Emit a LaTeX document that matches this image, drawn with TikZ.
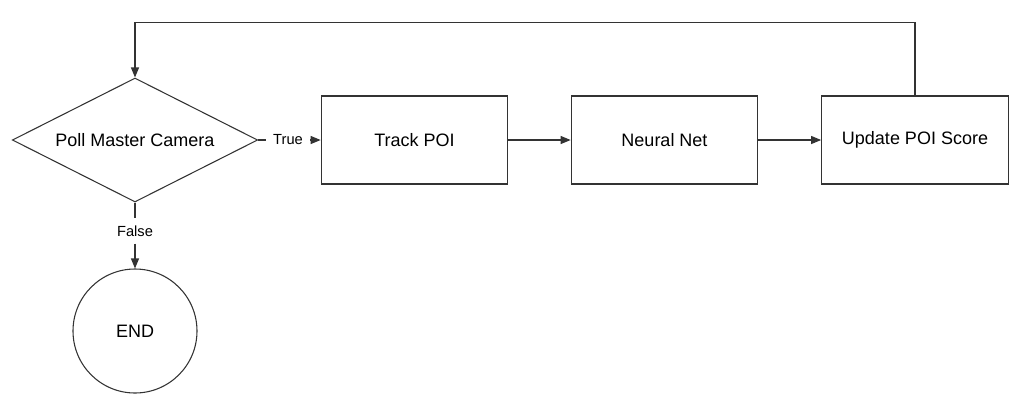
\documentclass[tikz,border=0pt]{standalone}
\usepackage{fontspec}
\setmainfont{Liberation Sans}
\usetikzlibrary{arrows.meta, shapes.geometric}

\begin{document}
\begin{tikzpicture}[>={Triangle[length=7.5pt, width=6pt]}, x=0.75pt, y=-0.75pt,
    line width=0.8pt, draw=black!80,
    every node/.style={font=\fontsize{13.5}{15}\selectfont},
    decision/.style={draw, diamond, aspect=2, inner sep=0pt, minimum width=184pt, minimum height=93pt},
    process/.style={draw, rectangle, minimum width=140pt, minimum height=66pt},
    terminal/.style={draw, circle, minimum size=93pt, inner sep=0pt},
    branch/.style={font=\fontsize{11}{12}\selectfont, inner sep=5pt}]
    \useasboundingbox (0,0) rectangle (1030,404);

    % Decision
    \node[decision] (poll) at (135,140) {Poll Master Camera};
    \node[branch] (lbltrue) at (288,140) {True};
    \node[branch] (lblfalse) at (135,231) {False};

    % Processing chain
    \node[process] (track) at (414.5,140) {Track POI};
    \node[process] (neural) at (664.5,140) {Neural Net};
    \node[process] (update) at (915,140) {Update POI Score};

    % End
    \node[terminal] (end) at (135,331) {END};

    % Connectors
    \draw (poll.east) -- (lbltrue.west);
    \draw[->] (lbltrue.east) -- (track.west);
    \draw[->] (track.east) -- (neural.west);
    \draw[->] (neural.east) -- (update.west);
    \draw[->] (update.north) -- ++(0,-73) -| (poll.north);
    \draw (poll.south) -- (lblfalse.north);
    \draw[->] (lblfalse.south) -- (end.north);
\end{tikzpicture}
\end{document}
